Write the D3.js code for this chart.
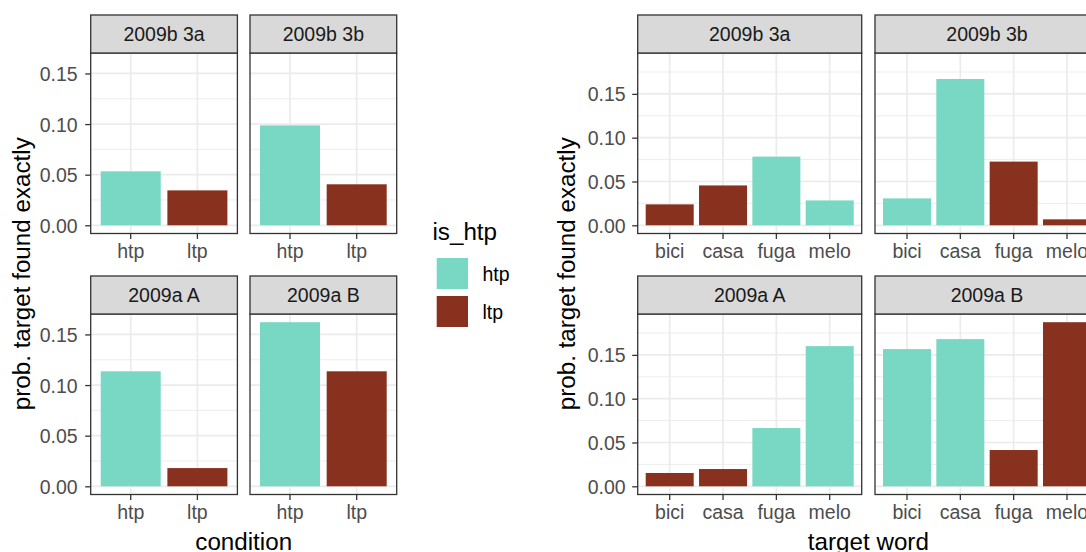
<!DOCTYPE html>
<html>
<head>
<meta charset="utf-8">
<script src="https://cdn.jsdelivr.net/npm/d3@7"></script>
<style>
  body { margin: 0; background: #fff; }
  svg { display: block; font-family: "Liberation Sans", Arial, sans-serif; }
</style>
</head>
<body>
<svg id="chart" width="1086" height="552"></svg>
<script>
// facet labels, row by row
var facets = ["2009b 3a", "2009b 3b", "2009a A", "2009a B"];

// left plot: prob. target found exactly, by condition
var conditions = ["htp", "ltp"];
var cond_values = [
    [0.0533, 0.0345],
    [0.0987, 0.0405],
    [0.1136, 0.0180],
    [0.1621, 0.1136]
];

// right plot: prob. target found exactly, by target word
var words = ["bici", "casa", "fuga", "melo"];
var word_values = [
    [0.0239, 0.0455, 0.0784, 0.0284],
    [0.0307, 0.1670, 0.0727, 0.0068],
    [0.0152, 0.0197, 0.0665, 0.1600],
    [0.1566, 0.1680, 0.0414, 0.1873]
];
var word_is_htp = [
    ["ltp", "ltp", "htp", "htp"],
    ["htp", "htp", "ltp", "ltp"],
    ["ltp", "ltp", "htp", "htp"],
    ["htp", "htp", "ltp", "ltp"]
];

var y_ticks = [0, 0.05, 0.10, 0.15];
var legend_levels = ["htp", "ltp"];

var fill = d3.scaleOrdinal().domain(legend_levels).range(["#78D8C4", "#89311F"]);

var svg = d3.select("#chart");

// shared vertical layout of the two facet grids
var row_top = [15, 276],
    strip_h = 38,
    panel_h = 180.5;

facetPlot({
    cols: [90.7, 250], panel_w: 146.7,
    cats: conditions,
    values: cond_values,
    fills: cond_values.map(function(r) { return conditions; }),
    x_title: "condition",
    y_title_x: 29.5,
    label_gap: 7.5
});

facetPlot({
    cols: [637.7, 875], panel_w: 224,
    cats: words,
    values: word_values,
    fills: word_is_htp,
    x_title: "target word",
    y_title_x: 575,
    label_gap: 6.5
});

drawLegend();

function facetPlot(cfg) {
    var g = svg.append("g");
    var max_v = d3.max(cfg.values, function(r) { return d3.max(r); });
    // ggplot style 5% expansion on both ends
    var lo = -0.05 * max_v, hi = 1.05 * max_v;

    var minor = d3.range(0.025, hi, 0.05);

    facets.forEach(function(name, i) {
        var col = i % 2, row = Math.floor(i / 2);
        var x0 = cfg.cols[col], y_strip = row_top[row], y0 = y_strip + strip_h;

        var x = d3.scaleBand().domain(cfg.cats)
            .range([x0, x0 + cfg.panel_w])
            .paddingInner(0.1).paddingOuter(0.15);
        var y = d3.scaleLinear().domain([lo, hi]).range([y0 + panel_h, y0]);

        var p = g.append("g");

        p.append("rect")
            .attr("x", x0).attr("y", y0)
            .attr("width", cfg.panel_w).attr("height", panel_h)
            .attr("fill", "#fff");

        // minor grid
        p.selectAll(".minor").data(minor).enter().append("line")
            .attr("x1", x0).attr("x2", x0 + cfg.panel_w)
            .attr("y1", d => y(d)).attr("y2", d => y(d))
            .attr("stroke", "#EBEBEB").attr("stroke-width", 0.9);

        // major grid
        p.selectAll(".major").data(y_ticks).enter().append("line")
            .attr("x1", x0).attr("x2", x0 + cfg.panel_w)
            .attr("y1", d => y(d)).attr("y2", d => y(d))
            .attr("stroke", "#EBEBEB").attr("stroke-width", 1.7);
        p.selectAll(".vmajor").data(cfg.cats).enter().append("line")
            .attr("x1", d => x(d) + x.bandwidth() / 2).attr("x2", d => x(d) + x.bandwidth() / 2)
            .attr("y1", y0).attr("y2", y0 + panel_h)
            .attr("stroke", "#EBEBEB").attr("stroke-width", 1.7);

        // bars
        var bars = cfg.cats.map(function(c, j) {
            return {cat: c, value: cfg.values[i][j], is_htp: cfg.fills[i][j]};
        });
        p.selectAll(".bar").data(bars).enter().append("rect")
            .attr("x", d => x(d.cat))
            .attr("width", x.bandwidth())
            .attr("y", d => y(d.value))
            .attr("height", d => y(0) - y(d.value))
            .attr("fill", d => fill(d.is_htp));

        // panel border
        p.append("rect")
            .attr("x", x0).attr("y", y0)
            .attr("width", cfg.panel_w).attr("height", panel_h)
            .attr("fill", "none").attr("stroke", "#333").attr("stroke-width", 1.3);

        // strip
        p.append("rect")
            .attr("x", x0).attr("y", y_strip)
            .attr("width", cfg.panel_w).attr("height", strip_h)
            .attr("fill", "#D9D9D9").attr("stroke", "#333").attr("stroke-width", 1.3);
        p.append("text")
            .attr("x", x0 + cfg.panel_w / 2).attr("y", y_strip + strip_h / 2)
            .attr("dy", "0.36em")
            .attr("text-anchor", "middle")
            .attr("font-size", "19.5px")
            .attr("fill", "#1A1A1A")
            .text(name);

        // x axis under every panel
        var xa = p.append("g")
            .attr("transform", `translate(0,${y0 + panel_h})`)
            .call(d3.axisBottom(x).tickSize(5.5).tickPadding(5.2).tickSizeOuter(0));
        styleAxis(xa);

        // y axis on left column only
        if (col == 0) {
            var ya = p.append("g")
                .attr("transform", `translate(${x0},0)`)
                .call(d3.axisLeft(y).tickValues(y_ticks).tickFormat(d3.format(".2f"))
                    .tickSize(5.5).tickPadding(cfg.label_gap).tickSizeOuter(0));
            styleAxis(ya);
            ya.selectAll("text").attr("dy", "0.36em");
        }
    });

    // axis titles, centred over the panels
    var panels_left = cfg.cols[0], panels_right = cfg.cols[1] + cfg.panel_w;
    g.append("text")
        .attr("x", (panels_left + panels_right) / 2)
        .attr("y", 549.5)
        .attr("text-anchor", "middle")
        .attr("font-size", "24.2px")
        .attr("fill", "#000")
        .text(cfg.x_title);

    var y_mid = (row_top[0] + strip_h + row_top[1] + strip_h + panel_h) / 2;
    g.append("text")
        .attr("transform", `translate(${cfg.y_title_x},${y_mid}) rotate(-90)`)
        .attr("text-anchor", "middle")
        .attr("font-size", "24.2px")
        .attr("fill", "#000")
        .text("prob. target found exactly");
}

function styleAxis(a) {
    a.select(".domain").remove();
    a.selectAll(".tick line").attr("stroke", "#333").attr("stroke-width", 1.3);
    a.selectAll("text")
        .attr("fill", "#4D4D4D")
        .style("font-size", "19.5px")
        .style("font-family", "'Liberation Sans', Arial, sans-serif");
}

function drawLegend() {
    var lg = svg.append("g");
    lg.append("text")
        .attr("x", 432.5).attr("y", 239.5)
        .attr("font-size", "24.2px")
        .attr("fill", "#000")
        .text("is_htp");

    var ky = d3.scaleBand().domain(legend_levels)
        .range([258, 327]).paddingInner(7 / 38).paddingOuter(0);

    lg.selectAll(".key").data(legend_levels).enter().append("rect")
        .attr("x", 436.7).attr("y", d => ky(d))
        .attr("width", 31.3).attr("height", ky.bandwidth())
        .attr("fill", d => fill(d));

    lg.selectAll(".klab").data(legend_levels).enter().append("text")
        .attr("x", 482.5).attr("y", d => ky(d) + ky.bandwidth() / 2)
        .attr("dy", "0.36em")
        .attr("font-size", "19.5px")
        .attr("fill", "#000")
        .text(d => d);
}
</script>
</body>
</html>
